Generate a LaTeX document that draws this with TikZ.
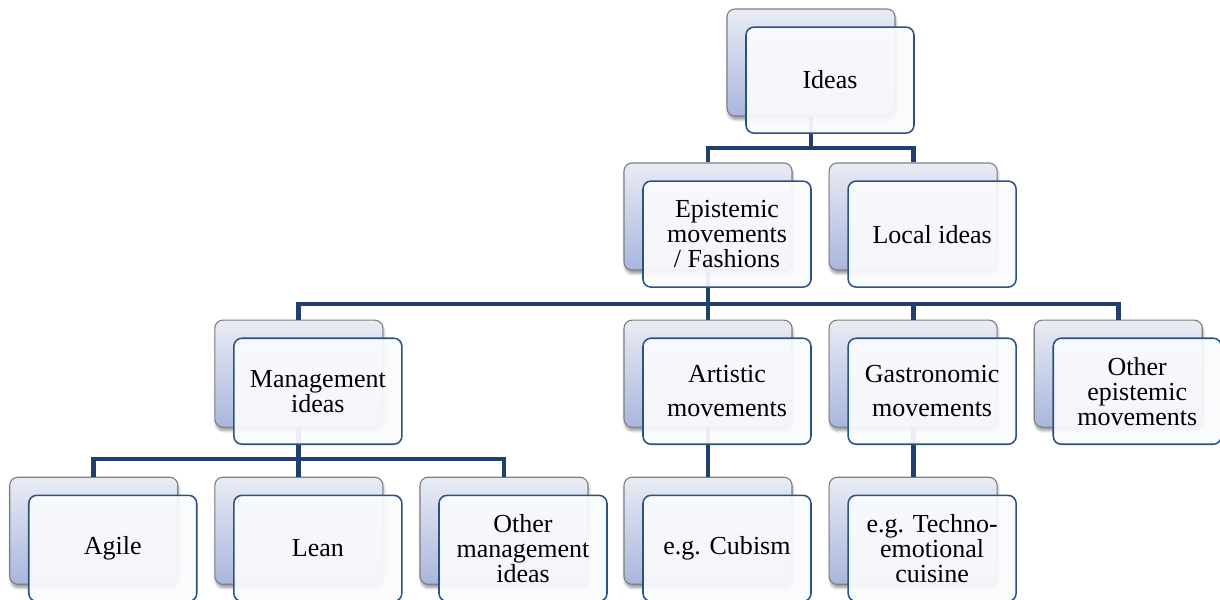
\documentclass[tikz,border=0pt]{standalone}
\usepackage{fontspec}
\setmainfont{Liberation Serif}
\usepackage{tikz}
\usetikzlibrary{positioning}
\usetikzlibrary{shadows.blur}
\definecolor{linkblue}{HTML}{1F3F6E}
\definecolor{frontblue}{HTML}{2B5283}
\definecolor{backtop}{HTML}{E9ECF5}
\definecolor{backbot}{HTML}{A9B6DD}
\definecolor{backline}{HTML}{7F7F7F}
\definecolor{frontfill}{HTML}{FAFBFD}
\tikzset{
    backbox/.style={rectangle,rounded corners=0.2cm,draw=backline,line width=0.8pt,
        top color=backtop,bottom color=backbot,minimum width=4.2cm,minimum height=2.675cm,
        blur shadow={shadow xshift=0.6pt,shadow yshift=-2.5pt,shadow blur steps=6,shadow opacity=40}},
    frontbox/.style={rectangle,rounded corners=0.2cm,draw=frontblue,line width=1.1pt,
        fill=frontfill,fill opacity=0.93,text opacity=1,minimum width=4.2cm,minimum height=2.65cm,
        align=center,font=\fontsize{18.5}{17.8}\selectfont},
    link/.style={draw=linkblue,line width=3.4pt},
}

\begin{document}
\begin{tikzpicture}
            \useasboundingbox (0,0) rectangle (30.5,-14.975);

            \node (ideasB) [backbox] at (20.275,-1.5625)            {};
            \node (epiB)   [backbox] at (17.7,-5.4125)              {};
            \node (localB) [backbox,right=0.9cm of epiB]            {};
            \node (artB)   [backbox,below=1.225cm of epiB]          {};
            \node (gasB)   [backbox,right=0.9cm of artB]            {};
            \node (othB)   [backbox,right=0.9cm of gasB]            {};
            \node (mgtB)   [backbox,left=6cm of artB]               {};
            \node (leanB)  [backbox,below=1.225cm of mgtB]          {};
            \node (agiB)   [backbox,left=0.9cm of leanB]            {};
            \node (omgB)   [backbox,right=0.9cm of leanB]           {};
            \node (cubB)   [backbox,below=1.225cm of artB]          {};
            \node (tecB)   [backbox,below=1.225cm of gasB]          {};

            \coordinate (bar1) at (0,-3.7);
            \coordinate (bar2) at (0,-7.6);
            \coordinate (bar3) at (0,-11.475);

            \draw[link] (ideasB.south) -- (ideasB |- bar1) -| (epiB.north);
            \draw[link] (ideasB |- bar1) -| (localB.north);
            \draw[link] (epiB.south) -- (artB.north);
            \draw[link] (epiB |- bar2) -| (mgtB.north);
            \draw[link] (epiB |- bar2) -| (gasB.north);
            \draw[link] (epiB |- bar2) -| (othB.north);
            \draw[link] (mgtB.south) -- (leanB.north);
            \draw[link] (mgtB |- bar3) -| (agiB.north);
            \draw[link] (mgtB |- bar3) -| (omgB.north);
            \draw[link] (artB.south) -- (cubB.north);
            \draw[link] (gasB.south) -- (tecB.north);

            \node (ideas) [frontbox] at ([shift={(0.475,-0.44)}]ideasB) {Ideas};
            \node (epi)   [frontbox] at ([shift={(0.475,-0.44)}]epiB)   {Epistemic\\movements\\/ Fashions};
            \node (local) [frontbox] at ([shift={(0.475,-0.44)}]localB) {Local ideas};
            \node (art)   [frontbox] at ([shift={(0.475,-0.44)}]artB)   {Artistic\\[6pt]movements};
            \node (gas)   [frontbox] at ([shift={(0.475,-0.44)}]gasB)   {Gastronomic\\[6pt]movements};
            \node (oth)   [frontbox] at ([shift={(0.475,-0.44)}]othB)   {Other\\epistemic\\movements};
            \node (mgt)   [frontbox] at ([shift={(0.475,-0.44)}]mgtB)   {Management\\ideas};
            \node (agi)   [frontbox] at ([shift={(0.475,-0.44)}]agiB)   {Agile};
            \node (lean)  [frontbox] at ([shift={(0.475,-0.44)}]leanB)  {Lean};
            \node (omg)   [frontbox] at ([shift={(0.475,-0.44)}]omgB)   {Other\\management\\ideas};
            \node (cub)   [frontbox] at ([shift={(0.475,-0.44)}]cubB)   {e.g. Cubism};
            \node (tec)   [frontbox] at ([shift={(0.475,-0.44)}]tecB)   {e.g. Techno-\\emotional\\cuisine};
\end{tikzpicture}
\end{document}
